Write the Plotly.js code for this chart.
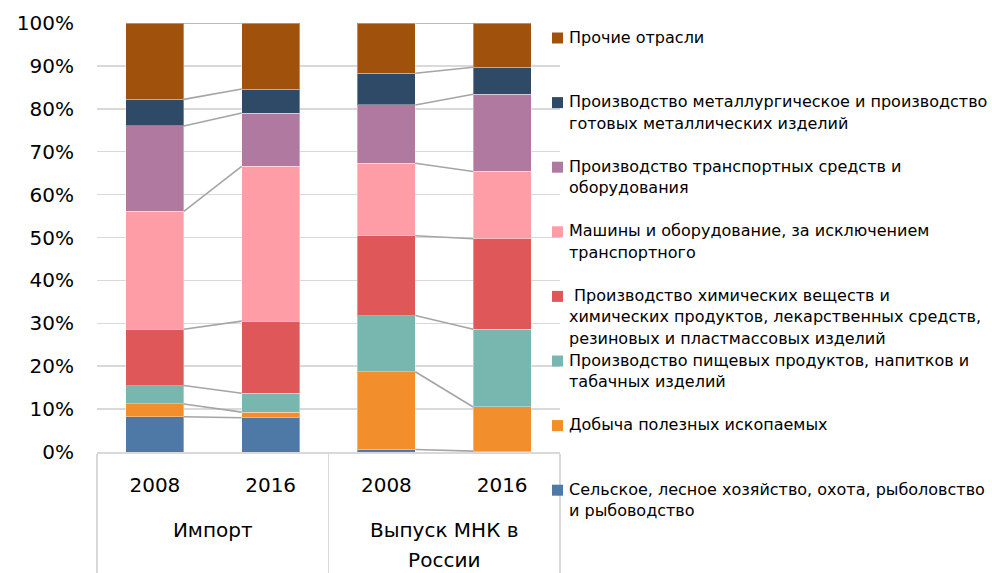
<!DOCTYPE html>
<html>
<head>
<meta charset="utf-8">
<script src="https://cdn.plot.ly/plotly-3.0.1.min.js"></script>
<style>html,body{margin:0;padding:0;background:#fff;}#chart{width:992px;height:573px;}</style>
</head>
<body>
<div id="chart"></div>
<script>
// Categories
const groups = ['Импорт', 'Импорт', 'Выпуск МНК в\nРоссии', 'Выпуск МНК в\nРоссии'];
const years = ['2008', '2016', '2008', '2016'];

// Series (bottom to top), shares in %
const seriesNames = [
  'Сельское, лесное хозяйство, охота, рыболовство\nи рыбоводство',
  'Добыча полезных ископаемых',
  'Производство пищевых продуктов, напитков и\nтабачных изделий',
  ' Производство химических веществ и\nхимических продуктов, лекарственных средств,\nрезиновых и пластмассовых изделий',
  'Машины и оборудование, за исключением\nтранспортного',
  'Производство транспортных средств и\nоборудования',
  'Производство металлургическое и производство\nготовых металлических изделий',
  'Прочие отрасли'
];
const agriculture = [8.2, 8.0, 0.6, 0.2];
const mining      = [3.0, 1.3, 18.1, 10.3];
const food        = [4.3, 4.4, 13.1, 18.1];
const chemicals   = [13.1, 16.8, 18.6, 21.1];
const machinery   = [27.5, 36.1, 16.9, 15.7];
const transport   = [19.9, 12.4, 13.6, 18.0];
const metals      = [6.2, 5.6, 7.4, 6.3];
const other       = [17.8, 15.4, 11.7, 10.3];

const seriesValues = [agriculture, mining, food, chemicals, machinery, transport, metals, other];
const colors = ['#4E79A7', '#F28E2B', '#78B6B0', '#E05759', '#FF9DA7', '#B07AA0', '#2E4A66', '#A0520C'];

// label formatting (text drawn at 20px inside a 23px line grid)
const sp = t => '<span style="font-size:20px">' + t + '</span>';
const groupLabels = groups.map(g => '&nbsp;<br>' + g.split('\n').map(sp).join('<br>'));
const yearLabels = years.map(sp);

const traces = [];
seriesValues.forEach((vals, i) => {
  traces.push({
    type: 'bar',
    x: [groupLabels, yearLabels],
    y: vals,
    name: seriesNames[i],
    marker: {color: colors[i], line: {color: 'rgba(255,255,255,0.35)', width: 1}},
    showlegend: false,
    hoverinfo: 'y'
  });
});

// Series connector lines (top of each segment between bars of a group)
const cum = [0, 0, 0, 0];
const lx = [], ly = [];
const half = 0.25;
seriesValues.forEach((vals) => {
  for (let k = 0; k < 4; k++) cum[k] += vals[k];
  for (let g = 0; g < 2; g++) {
    lx.push(2 * g + half, 2 * g + 1 - half, null);
    ly.push(cum[2 * g], cum[2 * g + 1], null);
  }
});
traces.push({
  type: 'scatter', mode: 'lines', x: lx, y: ly, xaxis: 'x2', yaxis: 'y',
  line: {color: '#A5A5A5', width: 1.6}, showlegend: false, hoverinfo: 'skip', connectgaps: false
});

// Legend built as annotations
const L = 97, R = 560, T = 23, B = 452;
const pw = R - L, ph = B - T;
const px2x = p => (p - L) / pw;
const py2y = p => (B - p) / ph;
const annotations = [];
const shapes = [];
const slotStart = 37, slotStep = 64.6, lineStep = 21.5;
const legendOrder = [7, 6, 5, 4, 3, 2, 1, 0];
legendOrder.forEach((si, idx) => {
  const yc = slotStart + slotStep * idx;
  const lines = seriesNames[si].split('\n');
  lines.forEach((ln, j) => {
    annotations.push({
      xref: 'paper', yref: 'paper', x: px2x(567), y: py2y(yc + j * lineStep),
      xanchor: 'left', yanchor: 'middle', showarrow: false, text: ln.replace(/^ /, '&nbsp;'),
      font: {family: 'DejaVu Sans, Verdana, sans-serif', size: 16, color: '#000'}
    });
  });
  shapes.push({
    type: 'rect', xref: 'paper', yref: 'paper',
    x0: px2x(552), x1: px2x(563), y0: py2y(yc - 4.5), y1: py2y(yc + 6.5),
    fillcolor: colors[si], line: {width: 0}
  });
});

const layout = {
  width: 992, height: 573,
  margin: {l: L, r: 992 - R, t: T, b: 573 - B},
  paper_bgcolor: '#fff', plot_bgcolor: '#fff',
  barmode: 'stack', bargap: 0.5,
  font: {family: 'DejaVu Sans, Verdana, sans-serif', size: 20, color: '#000'},
  xaxis: {
    type: 'multicategory', range: [-0.5, 3.5],
    showline: true, linecolor: '#D9D9D9', linewidth: 1.5,
    showdividers: true, dividercolor: '#D9D9D9', dividerwidth: 1.5,
    tickfont: {size: 23, color: '#000'}, ticks: '', ticklabelstandoff: 11, showgrid: false
  },
  xaxis2: {overlaying: 'x', range: [-0.5, 3.5], visible: false, anchor: 'y'},
  yaxis: {
    range: [0, 100], dtick: 10, ticksuffix: '%',
    showgrid: true, gridcolor: '#D9D9D9', gridwidth: 1.5,
    zeroline: false, showline: false, ticks: '', ticklabelstandoff: 22,
    tickfont: {size: 20, color: '#000'}
  },
  showlegend: false,
  annotations: annotations,
  shapes: shapes
};

Plotly.newPlot('chart', traces, layout, {staticPlot: true, displayModeBar: false});
</script>
</body>
</html>
